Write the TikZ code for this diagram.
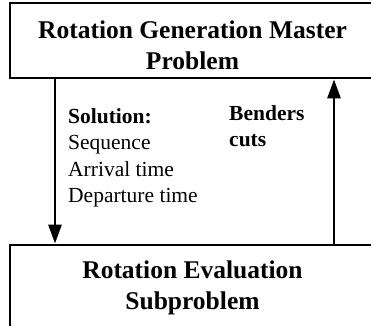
\documentclass[tikz,border=0pt]{standalone}
\usepackage{fontspec}
\setmainfont{Liberation Serif}
\usetikzlibrary{positioning, arrows.meta, calc}

\begin{document}
\begin{tikzpicture}[x=1pt, y=1pt,
    box/.style={draw, line width=2.8pt, inner sep=0pt},
    boxtext/.style={align=center, inner sep=0pt, font=\bfseries\fontsize{25.5}{31}\selectfont},
    lbl/.style={align=left, inner sep=0pt, font=\fontsize{21.5}{26.5}\selectfont},
    arr/.style={line width=2.8pt, -{Triangle[length=19pt, width=13pt]}}]
    \useasboundingbox (0,0) rectangle (371,325);
    % the two problems
    \node[box, minimum width=365, minimum height=75] (master) at (192.5,284.5) {};
    \node[boxtext, yshift=-5] (mastertext) at (master) {Rotation Generation Master\\Problem};
    \node[box, minimum width=365, minimum height=85] (sub) at (192.5,37.5) {};
    \node[boxtext] (subtext) at (sub) {Rotation Evaluation\\Subproblem};
    % x of the two arrows
    \coordinate (dn) at (55,0);
    \coordinate (up) at (334,0);
    \draw[arr] (master.south -| dn) -- (sub.north -| dn);
    \draw[arr] (sub.north -| up) -- (master.south -| up);
    % what is passed
    \node[lbl, anchor=north west] (sol) at (68,217)
        {\textbf{Solution:}\\Sequence\\Arrival time\\Departure time};
    \node[lbl, anchor=north west, font=\bfseries\fontsize{21.5}{26.5}\selectfont] (cuts) at (229,220)
        {Benders\\cuts};
\end{tikzpicture}
\end{document}
